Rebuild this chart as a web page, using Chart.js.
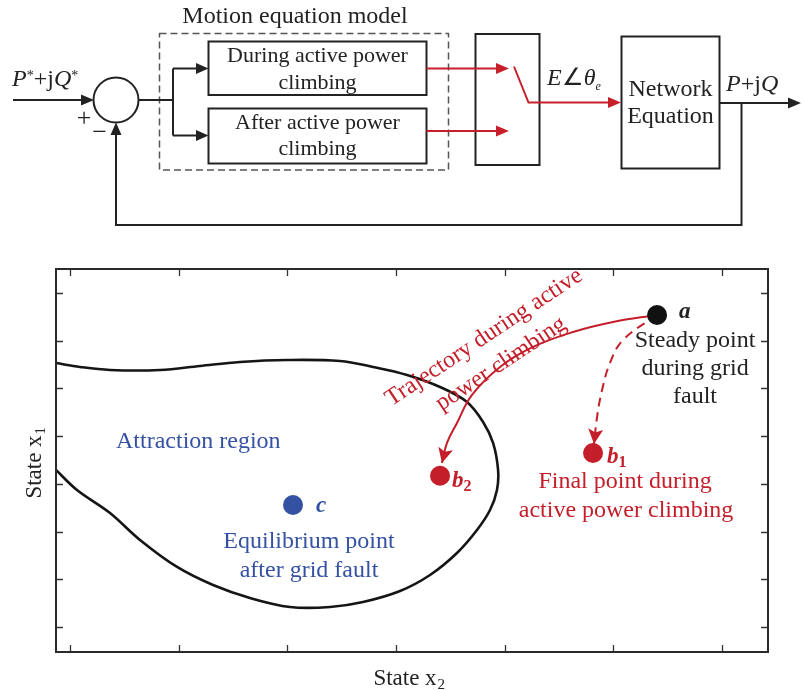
<!DOCTYPE html>
<html>
<head>
<meta charset="utf-8">
<title>Attraction region and active power climbing</title>
<script src="https://cdn.jsdelivr.net/npm/chart.js@4.4.1/dist/chart.umd.min.js"></script>
<style>
  html, body { margin: 0; padding: 0; background: #ffffff; }
  #wrap { position: relative; width: 804px; height: 690px; overflow: hidden; }
  #plot { position: absolute; left: 0; top: 0; }
  #diagram { position: absolute; left: 0; top: 0; }
</style>
</head>
<body>
<div id="wrap">
  <canvas id="plot" width="804" height="690"></canvas>

  <!-- control loop: reference -> motion equation model -> switch -> network equation -->
  <svg id="diagram" width="804" height="240" viewBox="0 0 804 240"
       font-family="'Liberation Serif', 'Times New Roman', serif" fill="#222">
    <text x="295" y="23" font-size="24" text-anchor="middle">Motion equation model</text>
    <rect x="159.5" y="33.5" width="289" height="136.5" fill="none" stroke="#555" stroke-width="1.5" stroke-dasharray="7 4"/>

    <rect x="208.5" y="41.5" width="218" height="53.5" fill="none" stroke="#222" stroke-width="2"/>
    <text x="317.5" y="62" font-size="22" text-anchor="middle">During active power</text>
    <text x="317.5" y="88.5" font-size="22" text-anchor="middle">climbing</text>

    <rect x="208.5" y="108.5" width="218" height="55" fill="none" stroke="#222" stroke-width="2"/>
    <text x="317.5" y="128.5" font-size="22" text-anchor="middle">After active power</text>
    <text x="317.5" y="155" font-size="22" text-anchor="middle">climbing</text>

    <circle cx="116" cy="100" r="22.5" fill="none" stroke="#222" stroke-width="2"/>

    <rect x="475.5" y="34" width="64" height="131" fill="none" stroke="#222" stroke-width="2"/>
    <rect x="621.5" y="36.5" width="98" height="132" fill="none" stroke="#222" stroke-width="2"/>
    <text x="670.5" y="96" font-size="24" text-anchor="middle">Network</text>
    <text x="670.5" y="123" font-size="24" text-anchor="middle">Equation</text>

    <g fill="none" stroke="#222" stroke-width="2">
      <path d="M13 100 H83"/>
      <path d="M138.5 100 H173 M173 68.5 V135.5 M173 68.5 H197 M173 135.5 H197"/>
      <path d="M719.5 103 H789"/>
      <path d="M741.5 103 V225 H116 V134"/>
    </g>
    <g fill="none" stroke="#c8202a" stroke-width="2">
      <path d="M426.5 68.5 H497 M426.5 131 H497"/>
      <path d="M514 66.5 L528.5 102.5 H609"/>
    </g>
    <g fill="#222">
      <polygon points="94,100 81,94.5 81,105.5"/>
      <polygon points="208.5,68.5 196,63 196,74"/>
      <polygon points="208.5,135.5 196,130 196,141"/>
      <polygon points="801,103 788,97.5 788,108.5"/>
      <polygon points="116,122.5 110.5,135 121.5,135"/>
    </g>
    <g fill="#c8202a">
      <polygon points="509,68.5 496,63 496,74"/>
      <polygon points="509,131 496,125.5 496,136.5"/>
      <polygon points="621,102.5 608,97 608,108"/>
    </g>

    <text x="12" y="86" font-size="24"><tspan font-style="italic">P</tspan><tspan font-size="14" dy="-6">*</tspan><tspan dy="6">+j</tspan><tspan font-style="italic">Q</tspan><tspan font-size="14" dy="-6">*</tspan></text>
    <text x="84" y="126" font-size="26" text-anchor="middle">+</text>
    <text x="99.5" y="140" font-size="26" text-anchor="middle">−</text>
    <text x="547" y="85" font-size="24"><tspan font-style="italic">E</tspan>∠<tspan font-style="italic">θ</tspan><tspan font-style="italic" font-size="12" dy="5">e</tspan></text>
    <text x="726" y="91" font-size="24"><tspan font-style="italic">P</tspan>+j<tspan font-style="italic">Q</tspan></text>
  </svg>
</div>

<script>
// Axis extents and tick positions (state-space units)
const xRange = [0.871, 7.423];
const yRange = [0.476, 8.503];
const xTicks = [1, 2, 3, 4, 5, 6, 7];
const yTicks = [1, 2, 3, 4, 5, 6, 7, 8];

// Boundary of the attraction region after the grid fault
const boundaryX = [0.871, 1.092, 1.368, 1.828, 2.196, 2.564, 2.997, 3.485, 3.788, 4.101,
                   4.405, 4.653, 4.801, 4.893, 4.939, 4.929, 4.865, 4.745, 4.561, 4.313,
                   4.037, 3.696, 3.393, 3.024, 2.656, 2.316, 1.985, 1.644, 1.368, 1.064, 0.871];
const boundaryY = [6.533, 6.450, 6.387, 6.387, 6.471, 6.554, 6.596, 6.575, 6.450, 6.282,
                   6.030, 5.716, 5.297, 4.857, 4.291, 3.872, 3.452, 3.033, 2.551, 2.090,
                   1.755, 1.524, 1.419, 1.419, 1.608, 1.880, 2.258, 2.824, 3.389, 3.871, 4.291];

// Trajectory during active power climbing (a -> b2)
const climbX = [6.402, 5.997, 5.629, 5.261, 4.957, 4.699, 4.561, 4.469, 4.423];
const climbY = [7.540, 7.393, 7.183, 6.869, 6.450, 5.863, 5.276, 4.857, 4.437];

// Shift of the final point without climbing (a -> b1)
const shiftX = [6.402, 6.089, 5.969, 5.896, 5.850, 5.822];
const shiftY = [7.540, 7.015, 6.533, 5.967, 5.402, 4.836];

// Operating points
const stateNames = ['a', 'b1', 'b2', 'c'];
const stateX = [6.402, 5.813, 4.405, 3.052];
const stateY = [7.540, 4.647, 4.171, 3.557];

const RED = '#c41e2a';
const BLUE = '#3451a3';
const INK = '#222222';
const SERIF = "'Liberation Serif', 'Times New Roman', serif";
const pointColor = { a: '#111111', b1: RED, b2: RED, c: BLUE };

const toXY = (xs, ys) => xs.map((x, i) => ({ x, y: ys[i] }));

// Frame with inward ticks on all four sides
const framePlugin = {
  id: 'frame',
  afterDatasetsDraw(chart) {
    const { ctx, chartArea: a, scales } = chart;
    const len = 7;
    ctx.save();
    ctx.strokeStyle = '#333';
    ctx.lineWidth = 1.3;
    ctx.beginPath();
    xTicks.forEach(v => {
      const px = Math.round(scales.x.getPixelForValue(v)) + 0.5;
      ctx.moveTo(px, a.bottom); ctx.lineTo(px, a.bottom - len);
      ctx.moveTo(px, a.top); ctx.lineTo(px, a.top + len);
    });
    yTicks.forEach(v => {
      const py = Math.round(scales.y.getPixelForValue(v)) + 0.5;
      ctx.moveTo(a.left, py); ctx.lineTo(a.left + len, py);
      ctx.moveTo(a.right, py); ctx.lineTo(a.right - len, py);
    });
    ctx.stroke();
    ctx.lineWidth = 2;
    ctx.strokeStyle = '#2a2a2a';
    ctx.strokeRect(a.left, a.top, a.right - a.left, a.bottom - a.top);
    ctx.restore();
  }
};

// Arrowheads at the end of the trajectory lines
const arrowPlugin = {
  id: 'arrows',
  afterDatasetsDraw(chart) {
    const ctx = chart.ctx;
    chart.data.datasets.forEach((ds, i) => {
      if (!ds.arrowHead) return;
      const pts = chart.getDatasetMeta(i).data;
      const end = pts[pts.length - 1];
      let bx = end.cp1x, by = end.cp1y;
      if (bx === undefined || (Math.abs(bx - end.x) < 0.5 && Math.abs(by - end.y) < 0.5)) {
        bx = pts[pts.length - 2].x; by = pts[pts.length - 2].y;
      }
      const ang = Math.atan2(end.y - by, end.x - bx);
      const L = 15, W = 7.5;
      ctx.save();
      ctx.translate(end.x, end.y);
      ctx.rotate(ang);
      ctx.fillStyle = ds.borderColor;
      ctx.beginPath();
      ctx.moveTo(0, 0);
      ctx.lineTo(-L, -W);
      ctx.lineTo(-L + 3.5, 0);
      ctx.lineTo(-L, W);
      ctx.closePath();
      ctx.fill();
      ctx.restore();
    });
  }
};

// Point names, descriptions and axis titles
const labelPlugin = {
  id: 'labels',
  afterDraw(chart) {
    const { ctx, chartArea: area, scales } = chart;
    const P = name => {
      const k = stateNames.indexOf(name);
      return { x: scales.x.getPixelForValue(stateX[k]), y: scales.y.getPixelForValue(stateY[k]) };
    };
    const text = (s, x, y, font, color, align) => {
      ctx.font = font; ctx.fillStyle = color; ctx.textAlign = align || 'left';
      ctx.fillText(s, x, y);
    };
    const sub = (main, index, x, y, size, subSize, color, style) => {
      ctx.font = `${style} ${size}px ${SERIF}`;
      ctx.fillStyle = color; ctx.textAlign = 'left';
      ctx.fillText(main, x, y);
      const w = ctx.measureText(main).width;
      ctx.font = `bold ${subSize}px ${SERIF}`;
      ctx.fillText(index, x + w, y + 4);
    };
    ctx.save();
    ctx.textBaseline = 'alphabetic';

    const a = P('a'), b1 = P('b1'), b2 = P('b2'), c = P('c');
    const body = `24px ${SERIF}`;

    text('a', a.x + 22, a.y + 3, `bold italic 23px ${SERIF}`, INK);
    text('Steady point', a.x + 38, a.y + 32, body, INK, 'center');
    text('during grid', a.x + 38, a.y + 60, body, INK, 'center');
    text('fault', a.x + 38, a.y + 88, body, INK, 'center');

    sub('b', '1', b1.x + 14, b1.y + 10, 23, 16, RED, 'bold italic');
    text('Final point during', b1.x + 32, b1.y + 35, body, RED, 'center');
    text('active power climbing', b1.x + 33, b1.y + 64, body, RED, 'center');

    sub('b', '2', b2.x + 12, b2.y + 11, 23, 16, RED, 'bold italic');

    text('c', c.x + 23, c.y + 7, `bold italic 23px ${SERIF}`, BLUE);
    text('Equilibrium point', c.x + 16, c.y + 43, body, BLUE, 'center');
    text('after grid fault', c.x + 16, c.y + 72, body, BLUE, 'center');
    text('Attraction region', c.x - 177, c.y - 57, body, BLUE);

    // slanted caption along the climbing trajectory
    const ang = -33.6 * Math.PI / 180;
    [['Trajectory during active', -173, 22.5], ['power climbing', -156, 49]].forEach(([s, dx, dy]) => {
      ctx.save();
      ctx.translate(a.x + dx, a.y + dy);
      ctx.rotate(ang);
      ctx.font = body; ctx.fillStyle = RED; ctx.textAlign = 'center'; ctx.textBaseline = 'middle';
      ctx.fillText(s, 0, 0);
      ctx.restore();
    });

    // axis titles
    ctx.textBaseline = 'alphabetic';
    const t = 'State x';
    ctx.font = `23px ${SERIF}`;
    const tw = ctx.measureText(t).width;
    const cx = (area.left + area.right) / 2 - 3;
    ctx.fillStyle = INK; ctx.textAlign = 'left';
    ctx.fillText(t, cx - (tw + 8) / 2, 685);
    ctx.font = `15px ${SERIF}`;
    ctx.fillText('2', cx - (tw + 8) / 2 + tw + 1, 689);

    ctx.save();
    ctx.translate(41, 463);
    ctx.rotate(-Math.PI / 2);
    ctx.font = `23px ${SERIF}`;
    ctx.fillText(t, -(tw + 8) / 2, 0);
    ctx.font = `15px ${SERIF}`;
    ctx.fillText('1', -(tw + 8) / 2 + tw + 1, 4);
    ctx.restore();

    ctx.restore();
  }
};

new Chart(document.getElementById('plot'), {
  type: 'scatter',
  data: {
    datasets: [
      {
        label: 'states',
        data: toXY(stateX, stateY),
        pointRadius: 10,
        pointHoverRadius: 10,
        pointBorderWidth: 0,
        pointBackgroundColor: ctx => pointColor[stateNames[ctx.dataIndex]],
        order: 0
      },
      {
        label: 'climbing',
        data: toXY(climbX, climbY),
        showLine: true,
        borderColor: RED,
        borderWidth: 2,
        pointRadius: 0,
        tension: 0.4,
        arrowHead: true,
        order: 1
      },
      {
        label: 'no climbing',
        data: toXY(shiftX, shiftY),
        showLine: true,
        borderColor: RED,
        borderWidth: 2,
        borderDash: [9, 6],
        pointRadius: 0,
        tension: 0.4,
        arrowHead: true,
        order: 2
      },
      {
        label: 'boundary',
        data: toXY(boundaryX, boundaryY),
        showLine: true,
        borderColor: '#151515',
        borderWidth: 2.6,
        pointRadius: 0,
        tension: 0.35,
        order: 3
      }
    ]
  },
  options: {
    responsive: false,
    devicePixelRatio: 1,
    animation: false,
    events: [],
    layout: { padding: { left: 56, right: 36, top: 269, bottom: 38 } },
    plugins: { legend: { display: false }, tooltip: { enabled: false } },
    scales: {
      x: { type: 'linear', min: xRange[0], max: xRange[1], display: false },
      y: { type: 'linear', min: yRange[0], max: yRange[1], display: false }
    }
  },
  plugins: [framePlugin, arrowPlugin, labelPlugin]
});
</script>
</body>
</html>
